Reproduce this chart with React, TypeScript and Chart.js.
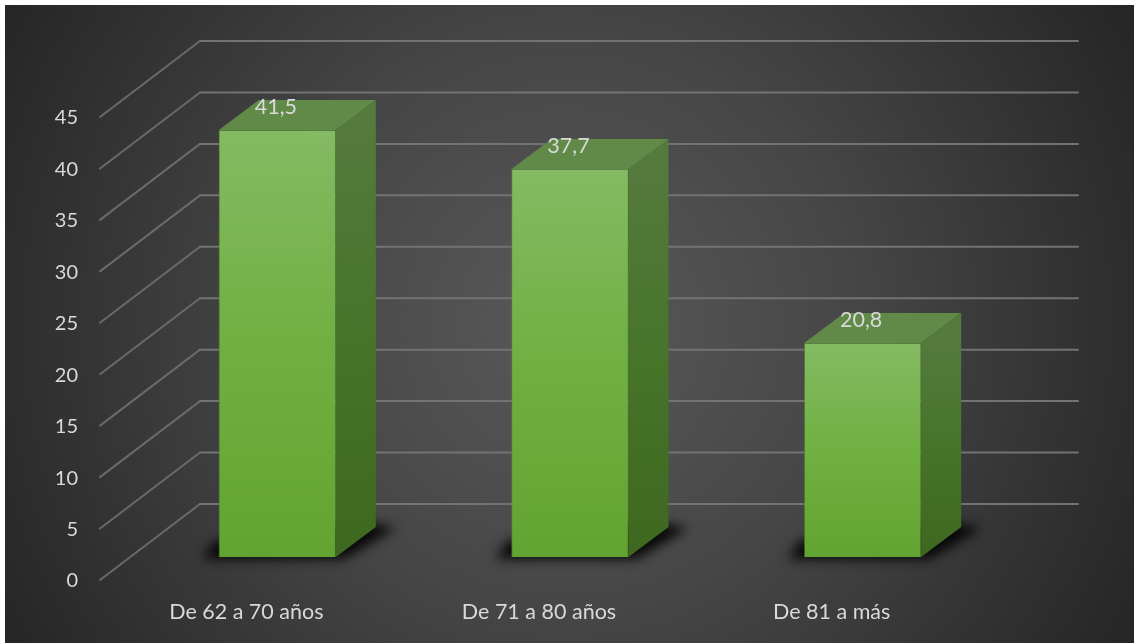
import React, { useEffect, useRef } from "react";
import { Chart, registerables } from "chart.js";

Chart.register(...registerables);

const categories = ["De 62 a 70 años", "De 71 a 80 años", "De 81 a más"];
const seriesValues = [41.5, 37.7, 20.8];
const valueLabels = ["41,5", "37,7", "20,8"];
const axisMax = 45;
const axisStep = 5;

const FONT = "Lato, Carlito, Calibri, sans-serif";
const TEXT = "#d9d9d9";

// Oblique projection used for the walls and for the bar sides.
const WALL_DX = 100;
const WALL_DY = -76;
const BAR_DX = 40;
const BAR_DY = -30;
// The bars stand part-way into the floor.
const BAR_SHIFT_X = 31;
const BAR_SHIFT_Y = -23;

const perspective = {
  id: "perspective",
  beforeDraw(chart: any) {
    const { ctx, width, height } = chart;
    ctx.save();
    ctx.fillStyle = "#ffffff";
    ctx.fillRect(0, 0, width, height);
    const bg = ctx.createRadialGradient(567, 324, 0, 567, 324, 640);
    bg.addColorStop(0, "#595959");
    bg.addColorStop(0.45, "#464646");
    bg.addColorStop(1, "#262626");
    ctx.fillStyle = bg;
    ctx.fillRect(5, 5, width - 5, height - 5);
    ctx.restore();
  },
  beforeDatasetsDraw(chart: any) {
    const { ctx, chartArea, scales } = chart;
    const { left, right } = chartArea;

    // Grid lines run along the side wall, then across the back wall.
    ctx.save();
    ctx.lineCap = "round";
    scales.y.ticks.forEach((t: any) => {
      const y = scales.y.getPixelForValue(t.value);
      ctx.strokeStyle = "#6a6a6a";
      ctx.lineWidth = 2;
      ctx.beginPath();
      ctx.moveTo(left, y);
      ctx.lineTo(left + WALL_DX, y + WALL_DY);
      ctx.stroke();
      ctx.strokeStyle = "#737373";
      ctx.lineWidth = 2;
      ctx.beginPath();
      ctx.moveTo(left + WALL_DX, y + WALL_DY);
      ctx.lineTo(right + WALL_DX, y + WALL_DY);
      ctx.stroke();
    });
    ctx.restore();

    const bars = chart.getDatasetMeta(0).data;
    bars.forEach((bar: any) => {
      const x0 = bar.x - bar.width / 2 + BAR_SHIFT_X;
      const x1 = bar.x + bar.width / 2 + BAR_SHIFT_X;
      const top = bar.y + BAR_SHIFT_Y;
      const base = bar.base + BAR_SHIFT_Y;

      // Soft contact shadow on the floor.
      ctx.save();
      ctx.filter = "blur(6px)";
      ctx.fillStyle = "rgba(0,0,0,0.9)";
      ctx.beginPath();
      ctx.moveTo(x0 - 16, base + 2);
      ctx.lineTo(x1 + 8, base + 2);
      ctx.lineTo(x1 + BAR_DX + 20, base + BAR_DY + 1);
      ctx.lineTo(x1 + BAR_DX - 8, base + BAR_DY - 4);
      ctx.lineTo(x0 - 4, base - 16);
      ctx.closePath();
      ctx.fill();
      ctx.restore();

      // Right-hand face.
      const side = ctx.createLinearGradient(0, top, 0, base);
      side.addColorStop(0, "#547a3c");
      side.addColorStop(0.5, "#467429");
      side.addColorStop(1, "#3e681f");
      ctx.fillStyle = side;
      ctx.beginPath();
      ctx.moveTo(x1, top);
      ctx.lineTo(x1 + BAR_DX, top + BAR_DY);
      ctx.lineTo(x1 + BAR_DX, base + BAR_DY);
      ctx.lineTo(x1, base);
      ctx.closePath();
      ctx.fill();

      // Top face.
      ctx.fillStyle = "#618a49";
      ctx.beginPath();
      ctx.moveTo(x0, top);
      ctx.lineTo(x0 + BAR_DX, top + BAR_DY);
      ctx.lineTo(x1 + BAR_DX, top + BAR_DY);
      ctx.lineTo(x1, top);
      ctx.closePath();
      ctx.fill();
    });
  },
  beforeDatasetDraw(chart: any) {
    chart.ctx.save();
    chart.ctx.translate(BAR_SHIFT_X, BAR_SHIFT_Y);
  },
  afterDatasetDraw(chart: any) {
    chart.ctx.restore();
  },
  afterDatasetsDraw(chart: any) {
    const { ctx } = chart;
    ctx.save();
    ctx.fillStyle = TEXT;
    ctx.font = `21.5px ${FONT}`;
    ctx.textAlign = "center";
    ctx.textBaseline = "middle";
    chart.getDatasetMeta(0).data.forEach((bar: any, i: number) => {
      ctx.fillText(valueLabels[i], bar.x + BAR_SHIFT_X - 1.5, bar.y + BAR_SHIFT_Y - 23);
    });
    ctx.restore();
  },
};

function frontFill(context: any) {
  const chart = context.chart;
  if (!chart.chartArea || context.parsed == null) return "#70b041";
  const scale = chart.scales.y;
  const g = chart.ctx.createLinearGradient(
    0,
    scale.getPixelForValue(context.parsed.y),
    0,
    scale.getPixelForValue(0)
  );
  g.addColorStop(0, "#84ba63");
  g.addColorStop(0.5, "#70b041");
  g.addColorStop(1, "#62a431");
  return g;
}

export default function App() {
  const canvasRef = useRef<HTMLCanvasElement>(null);

  useEffect(() => {
    const chart = new Chart(canvasRef.current as HTMLCanvasElement, {
      type: "bar",
      data: {
        labels: categories,
        datasets: [
          {
            data: seriesValues,
            backgroundColor: frontFill,
            borderColor: "rgba(80,140,40,0.55)",
            borderWidth: 1,
            barThickness: 117,
          },
        ],
      },
      options: {
        animation: false,
        responsive: false,
        layout: { padding: { top: 117, right: 156, left: 0, bottom: 0 } },
        plugins: { legend: { display: false }, tooltip: { enabled: false } },
        scales: {
          x: {
            grid: { display: false },
            border: { display: false },
            ticks: {
              color: TEXT,
              font: { family: FONT, size: 21.5 },
              padding: 11,
              maxRotation: 0,
              autoSkip: false,
            },
            afterFit(scale: any) {
              scale.height = 63;
            },
          },
          y: {
            min: 0,
            max: axisMax,
            grid: { display: false },
            border: { display: false },
            ticks: {
              stepSize: axisStep,
              color: TEXT,
              font: { family: FONT, size: 20 },
              padding: 14,
              labelOffset: 1,
            },
            afterFit(scale: any) {
              scale.width = 100;
            },
          },
        },
      },
      plugins: [perspective],
    } as any);
    return () => chart.destroy();
  }, []);

  return (
    <div style={{ position: "fixed", left: 0, top: 0, width: 1134, height: 643, background: "#fff" }}>
      <canvas ref={canvasRef} width={1134} height={643} style={{ display: "block" }} />
    </div>
  );
}
